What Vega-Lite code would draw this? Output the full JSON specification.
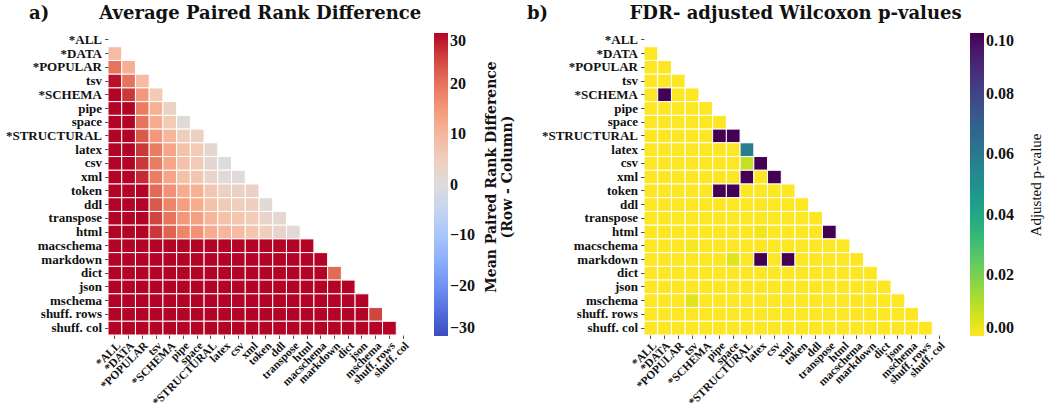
{
"$schema": "https://vega.github.io/schema/vega-lite/v6.json",
"padding": 5,
"background": "white",
"config": {
 "view": {"stroke": null},
 "font": "Liberation Serif",
 "axis": {"labelFont": "Liberation Serif", "labelFontWeight": "bold", "labelFontSize": 13, "labelColor": "#111", "domain": false, "grid": false, "tickColor": "#555", "tickSize": 3.5, "labelPadding": 3},
 "legend": {"labelFont": "Liberation Serif", "labelFontWeight": "bold", "labelFontSize": 16, "labelOffset": 8, "labelColor": "#111", "titleFont": "DejaVu Serif", "titleFontSize": 14, "titleColor": "#111", "titleLimit": 400},
 "title": {"font": "DejaVu Serif", "fontSize": 18, "fontWeight": "bold", "color": "#111"}
},
"data": {"values": [
{"r":"*DATA","c":"*ALL","d":9,"p":0},
{"r":"*POPULAR","c":"*ALL","d":20,"p":0},{"r":"*POPULAR","c":"*DATA","d":11,"p":0},
{"r":"tsv","c":"*ALL","d":29,"p":0},{"r":"tsv","c":"*DATA","d":20,"p":0},{"r":"tsv","c":"*POPULAR","d":9,"p":0},
{"r":"*SCHEMA","c":"*ALL","d":35,"p":0},{"r":"*SCHEMA","c":"*DATA","d":26,"p":0.42},{"r":"*SCHEMA","c":"*POPULAR","d":15,"p":0},{"r":"*SCHEMA","c":"tsv","d":6,"p":0},
{"r":"pipe","c":"*ALL","d":36,"p":0},{"r":"pipe","c":"*DATA","d":32,"p":0},{"r":"pipe","c":"*POPULAR","d":19,"p":0},{"r":"pipe","c":"tsv","d":11,"p":0},{"r":"pipe","c":"*SCHEMA","d":4,"p":0},
{"r":"space","c":"*ALL","d":37,"p":0},{"r":"space","c":"*DATA","d":32,"p":0},{"r":"space","c":"*POPULAR","d":20,"p":0},{"r":"space","c":"tsv","d":12,"p":0},{"r":"space","c":"*SCHEMA","d":6,"p":0},{"r":"space","c":"pipe","d":1,"p":0},
{"r":"*STRUCTURAL","c":"*ALL","d":38,"p":0},{"r":"*STRUCTURAL","c":"*DATA","d":33,"p":0},{"r":"*STRUCTURAL","c":"*POPULAR","d":23,"p":0},{"r":"*STRUCTURAL","c":"tsv","d":15,"p":0},{"r":"*STRUCTURAL","c":"*SCHEMA","d":10,"p":0},{"r":"*STRUCTURAL","c":"pipe","d":5,"p":0.31},{"r":"*STRUCTURAL","c":"space","d":4,"p":0.58},
{"r":"latex","c":"*ALL","d":39,"p":0},{"r":"latex","c":"*DATA","d":34,"p":0},{"r":"latex","c":"*POPULAR","d":26,"p":0},{"r":"latex","c":"tsv","d":19,"p":0},{"r":"latex","c":"*SCHEMA","d":13,"p":0},{"r":"latex","c":"pipe","d":8,"p":0},{"r":"latex","c":"space","d":6,"p":0},{"r":"latex","c":"*STRUCTURAL","d":2,"p":0.058},
{"r":"csv","c":"*ALL","d":39,"p":0},{"r":"csv","c":"*DATA","d":34,"p":0},{"r":"csv","c":"*POPULAR","d":26,"p":0},{"r":"csv","c":"tsv","d":19,"p":0},{"r":"csv","c":"*SCHEMA","d":13,"p":0},{"r":"csv","c":"pipe","d":8,"p":0},{"r":"csv","c":"space","d":6,"p":0},{"r":"csv","c":"*STRUCTURAL","d":2,"p":0.009},{"r":"csv","c":"latex","d":0,"p":0.72},
{"r":"xml","c":"*ALL","d":39,"p":0},{"r":"xml","c":"*DATA","d":34,"p":0},{"r":"xml","c":"*POPULAR","d":27,"p":0},{"r":"xml","c":"tsv","d":19,"p":0},{"r":"xml","c":"*SCHEMA","d":13,"p":0},{"r":"xml","c":"pipe","d":8,"p":0},{"r":"xml","c":"space","d":7,"p":0},{"r":"xml","c":"*STRUCTURAL","d":3,"p":0.27},{"r":"xml","c":"latex","d":1,"p":0},{"r":"xml","c":"csv","d":0.5,"p":0.55},
{"r":"token","c":"*ALL","d":40,"p":0},{"r":"token","c":"*DATA","d":35,"p":0},{"r":"token","c":"*POPULAR","d":31,"p":0},{"r":"token","c":"tsv","d":21,"p":0},{"r":"token","c":"*SCHEMA","d":16,"p":0},{"r":"token","c":"pipe","d":12,"p":0.19},{"r":"token","c":"space","d":11,"p":0.24},{"r":"token","c":"*STRUCTURAL","d":7,"p":0},{"r":"token","c":"latex","d":4,"p":0},{"r":"token","c":"csv","d":4,"p":0},{"r":"token","c":"xml","d":4,"p":0},
{"r":"ddl","c":"*ALL","d":40,"p":0},{"r":"ddl","c":"*DATA","d":35,"p":0},{"r":"ddl","c":"*POPULAR","d":32,"p":0},{"r":"ddl","c":"tsv","d":23,"p":0},{"r":"ddl","c":"*SCHEMA","d":18,"p":0},{"r":"ddl","c":"pipe","d":14,"p":0},{"r":"ddl","c":"space","d":12,"p":0},{"r":"ddl","c":"*STRUCTURAL","d":8,"p":0},{"r":"ddl","c":"latex","d":6,"p":0},{"r":"ddl","c":"csv","d":5,"p":0},{"r":"ddl","c":"xml","d":5,"p":0},{"r":"ddl","c":"token","d":1,"p":0},
{"r":"transpose","c":"*ALL","d":41,"p":0},{"r":"transpose","c":"*DATA","d":36,"p":0},{"r":"transpose","c":"*POPULAR","d":33,"p":0},{"r":"transpose","c":"tsv","d":25,"p":0},{"r":"transpose","c":"*SCHEMA","d":20,"p":0},{"r":"transpose","c":"pipe","d":15,"p":0},{"r":"transpose","c":"space","d":14,"p":0},{"r":"transpose","c":"*STRUCTURAL","d":10,"p":0},{"r":"transpose","c":"latex","d":8,"p":0},{"r":"transpose","c":"csv","d":7,"p":0},{"r":"transpose","c":"xml","d":6,"p":0},{"r":"transpose","c":"token","d":3,"p":0},{"r":"transpose","c":"ddl","d":2,"p":0},
{"r":"html","c":"*ALL","d":41,"p":0},{"r":"html","c":"*DATA","d":36,"p":0},{"r":"html","c":"*POPULAR","d":33,"p":0},{"r":"html","c":"tsv","d":26,"p":0},{"r":"html","c":"*SCHEMA","d":22,"p":0},{"r":"html","c":"pipe","d":18,"p":0},{"r":"html","c":"space","d":16,"p":0},{"r":"html","c":"*STRUCTURAL","d":12,"p":0},{"r":"html","c":"latex","d":10,"p":0.002},{"r":"html","c":"csv","d":9,"p":0},{"r":"html","c":"xml","d":7,"p":0},{"r":"html","c":"token","d":5,"p":0},{"r":"html","c":"ddl","d":3,"p":0},{"r":"html","c":"transpose","d":1,"p":0.38},
{"r":"macschema","c":"*ALL","d":62,"p":0},{"r":"macschema","c":"*DATA","d":60,"p":0},{"r":"macschema","c":"*POPULAR","d":57,"p":0},{"r":"macschema","c":"tsv","d":50,"p":0.001},{"r":"macschema","c":"*SCHEMA","d":47,"p":0},{"r":"macschema","c":"pipe","d":44,"p":0},{"r":"macschema","c":"space","d":43,"p":0},{"r":"macschema","c":"*STRUCTURAL","d":40,"p":0},{"r":"macschema","c":"latex","d":39,"p":0},{"r":"macschema","c":"csv","d":38,"p":0},{"r":"macschema","c":"xml","d":37,"p":0},{"r":"macschema","c":"token","d":35,"p":0},{"r":"macschema","c":"ddl","d":34,"p":0},{"r":"macschema","c":"transpose","d":33,"p":0},{"r":"macschema","c":"html","d":32,"p":0},
{"r":"markdown","c":"*ALL","d":66,"p":0},{"r":"markdown","c":"*DATA","d":64,"p":0},{"r":"markdown","c":"*POPULAR","d":61,"p":0},{"r":"markdown","c":"tsv","d":54,"p":0},{"r":"markdown","c":"*SCHEMA","d":51,"p":0},{"r":"markdown","c":"pipe","d":48,"p":0},{"r":"markdown","c":"space","d":47,"p":0.004},{"r":"markdown","c":"*STRUCTURAL","d":44,"p":0},{"r":"markdown","c":"latex","d":43,"p":0.21},{"r":"markdown","c":"csv","d":42,"p":0},{"r":"markdown","c":"xml","d":41,"p":0.33},{"r":"markdown","c":"token","d":39,"p":0},{"r":"markdown","c":"ddl","d":38,"p":0},{"r":"markdown","c":"transpose","d":37,"p":0},{"r":"markdown","c":"html","d":36,"p":0},{"r":"markdown","c":"macschema","d":31,"p":0},
{"r":"dict","c":"*ALL","d":70,"p":0},{"r":"dict","c":"*DATA","d":68,"p":0},{"r":"dict","c":"*POPULAR","d":65,"p":0},{"r":"dict","c":"tsv","d":58,"p":0},{"r":"dict","c":"*SCHEMA","d":55,"p":0},{"r":"dict","c":"pipe","d":52,"p":0},{"r":"dict","c":"space","d":51,"p":0},{"r":"dict","c":"*STRUCTURAL","d":48,"p":0},{"r":"dict","c":"latex","d":47,"p":0},{"r":"dict","c":"csv","d":46,"p":0},{"r":"dict","c":"xml","d":45,"p":0},{"r":"dict","c":"token","d":43,"p":0},{"r":"dict","c":"ddl","d":42,"p":0},{"r":"dict","c":"transpose","d":41,"p":0},{"r":"dict","c":"html","d":40,"p":0},{"r":"dict","c":"macschema","d":34,"p":0},{"r":"dict","c":"markdown","d":21,"p":0},
{"r":"json","c":"*ALL","d":74,"p":0},{"r":"json","c":"*DATA","d":72,"p":0},{"r":"json","c":"*POPULAR","d":69,"p":0},{"r":"json","c":"tsv","d":62,"p":0},{"r":"json","c":"*SCHEMA","d":59,"p":0},{"r":"json","c":"pipe","d":56,"p":0},{"r":"json","c":"space","d":55,"p":0},{"r":"json","c":"*STRUCTURAL","d":52,"p":0},{"r":"json","c":"latex","d":51,"p":0},{"r":"json","c":"csv","d":50,"p":0},{"r":"json","c":"xml","d":49,"p":0},{"r":"json","c":"token","d":47,"p":0},{"r":"json","c":"ddl","d":46,"p":0},{"r":"json","c":"transpose","d":45,"p":0},{"r":"json","c":"html","d":44,"p":0},{"r":"json","c":"macschema","d":38,"p":0},{"r":"json","c":"markdown","d":33,"p":0},{"r":"json","c":"dict","d":32,"p":0},
{"r":"mschema","c":"*ALL","d":78,"p":0},{"r":"mschema","c":"*DATA","d":76,"p":0},{"r":"mschema","c":"*POPULAR","d":73,"p":0},{"r":"mschema","c":"tsv","d":66,"p":0.004},{"r":"mschema","c":"*SCHEMA","d":63,"p":0},{"r":"mschema","c":"pipe","d":60,"p":0},{"r":"mschema","c":"space","d":59,"p":0},{"r":"mschema","c":"*STRUCTURAL","d":56,"p":0},{"r":"mschema","c":"latex","d":55,"p":0},{"r":"mschema","c":"csv","d":54,"p":0},{"r":"mschema","c":"xml","d":53,"p":0},{"r":"mschema","c":"token","d":51,"p":0},{"r":"mschema","c":"ddl","d":50,"p":0},{"r":"mschema","c":"transpose","d":49,"p":0},{"r":"mschema","c":"html","d":48,"p":0},{"r":"mschema","c":"macschema","d":42,"p":0},{"r":"mschema","c":"markdown","d":37,"p":0},{"r":"mschema","c":"dict","d":36,"p":0},{"r":"mschema","c":"json","d":33,"p":0},
{"r":"shuff. rows","c":"*ALL","d":82,"p":0},{"r":"shuff. rows","c":"*DATA","d":80,"p":0},{"r":"shuff. rows","c":"*POPULAR","d":77,"p":0},{"r":"shuff. rows","c":"tsv","d":70,"p":0},{"r":"shuff. rows","c":"*SCHEMA","d":67,"p":0},{"r":"shuff. rows","c":"pipe","d":64,"p":0},{"r":"shuff. rows","c":"space","d":63,"p":0},{"r":"shuff. rows","c":"*STRUCTURAL","d":60,"p":0},{"r":"shuff. rows","c":"latex","d":59,"p":0},{"r":"shuff. rows","c":"csv","d":58,"p":0},{"r":"shuff. rows","c":"xml","d":57,"p":0},{"r":"shuff. rows","c":"token","d":55,"p":0},{"r":"shuff. rows","c":"ddl","d":54,"p":0},{"r":"shuff. rows","c":"transpose","d":53,"p":0},{"r":"shuff. rows","c":"html","d":52,"p":0},{"r":"shuff. rows","c":"macschema","d":46,"p":0},{"r":"shuff. rows","c":"markdown","d":41,"p":0},{"r":"shuff. rows","c":"dict","d":40,"p":0},{"r":"shuff. rows","c":"json","d":37,"p":0},{"r":"shuff. rows","c":"mschema","d":25,"p":0},
{"r":"shuff. col","c":"*ALL","d":86,"p":0},{"r":"shuff. col","c":"*DATA","d":84,"p":0},{"r":"shuff. col","c":"*POPULAR","d":81,"p":0},{"r":"shuff. col","c":"tsv","d":74,"p":0},{"r":"shuff. col","c":"*SCHEMA","d":71,"p":0},{"r":"shuff. col","c":"pipe","d":68,"p":0},{"r":"shuff. col","c":"space","d":67,"p":0},{"r":"shuff. col","c":"*STRUCTURAL","d":64,"p":0},{"r":"shuff. col","c":"latex","d":63,"p":0},{"r":"shuff. col","c":"csv","d":62,"p":0},{"r":"shuff. col","c":"xml","d":61,"p":0},{"r":"shuff. col","c":"token","d":59,"p":0},{"r":"shuff. col","c":"ddl","d":58,"p":0},{"r":"shuff. col","c":"transpose","d":57,"p":0},{"r":"shuff. col","c":"html","d":56,"p":0},{"r":"shuff. col","c":"macschema","d":50,"p":0},{"r":"shuff. col","c":"markdown","d":45,"p":0},{"r":"shuff. col","c":"dict","d":44,"p":0},{"r":"shuff. col","c":"json","d":41,"p":0},{"r":"shuff. col","c":"mschema","d":35,"p":0},{"r":"shuff. col","c":"shuff. rows","d":31,"p":0}
]},
"spacing": 11,
"resolve": {"scale": {"color": "independent"}},
"hconcat": [
{
 "width": 302, "height": 302,
 "title": {"text": "a)\u00a0\u00a0\u00a0\u00a0\u00a0\u00a0\u00a0\u00a0Average Paired Rank Difference", "anchor": "start", "frame": "group", "dx": -79, "baseline": "alphabetic", "offset": -4},
 "mark": {"type": "rect", "stroke": "white", "strokeWidth": 1},
 "encoding": {
  "x": {"field": "c", "type": "nominal", "title": null, "scale": {"domain": ["*ALL","*DATA","*POPULAR","tsv","*SCHEMA","pipe","space","*STRUCTURAL","latex","csv","xml","token","ddl","transpose","html","macschema","markdown","dict","json","mschema","shuff. rows","shuff. col"], "paddingInner": 0, "paddingOuter": 0}, "axis": {"labelAngle": -45, "labelFontSize": 11.5, "labelPadding": 1}},
  "y": {"field": "r", "type": "nominal", "title": null, "scale": {"domain": ["*ALL","*DATA","*POPULAR","tsv","*SCHEMA","pipe","space","*STRUCTURAL","latex","csv","xml","token","ddl","transpose","html","macschema","markdown","dict","json","mschema","shuff. rows","shuff. col"], "paddingInner": 0, "paddingOuter": 0}},
  "color": {"field": "d", "type": "quantitative",
   "scale": {"domain": [-30,-24,-18,-12,-6,0,6,12,18,24,30], "range": ["#3b4cc0","#5977e3","#7b9ff9","#9ebeff","#c0d4f5","#dddcdc","#f2cbb7","#f7ac8e","#ee8468","#d65244","#b40426"], "clamp": true, "interpolate": "rgb"},
   "legend": {"title": ["Mean Paired Rank Difference", "(Row - Column)"], "titleOrient": "right", "titleFontWeight": "bold", "titlePadding": 6, "offset": 24, "gradientLength": 303, "gradientThickness": 14, "gradientStrokeWidth": 0, "values": [-30,-20,-10,0,10,20,30], "format": "d", "direction": "vertical",
     "encode": {"title": {"update": {"angle": {"value": 270}, "dy": {"value": 18}}}}}}
 }
},
{
 "width": 302, "height": 302,
 "title": {"text": "b)\u00a0\u00a0\u00a0\u00a0\u00a0\u00a0\u00a0\u00a0\u00a0\u00a0\u00a0\u00a0\u00a0FDR- adjusted Wilcoxon p-values", "anchor": "start", "frame": "group", "dx": -117, "baseline": "alphabetic", "offset": -4},
 "mark": {"type": "rect", "stroke": "white", "strokeWidth": 1},
 "encoding": {
  "x": {"field": "c", "type": "nominal", "title": null, "scale": {"domain": ["*ALL","*DATA","*POPULAR","tsv","*SCHEMA","pipe","space","*STRUCTURAL","latex","csv","xml","token","ddl","transpose","html","macschema","markdown","dict","json","mschema","shuff. rows","shuff. col"], "paddingInner": 0, "paddingOuter": 0}, "axis": {"labelAngle": -45, "labelFontSize": 11.5, "labelPadding": 1}},
  "y": {"field": "r", "type": "nominal", "title": null, "scale": {"domain": ["*ALL","*DATA","*POPULAR","tsv","*SCHEMA","pipe","space","*STRUCTURAL","latex","csv","xml","token","ddl","transpose","html","macschema","markdown","dict","json","mschema","shuff. rows","shuff. col"], "paddingInner": 0, "paddingOuter": 0}},
  "color": {"field": "p", "type": "quantitative",
   "scale": {"scheme": "viridis", "reverse": true, "domain": [0, 0.1], "clamp": true},
   "legend": {"title": "Adjusted p-value", "titleOrient": "right", "titleFont": "Liberation Serif", "titleFontSize": 15, "titleFontWeight": "normal", "titlePadding": 6, "offset": 24, "gradientLength": 303, "gradientThickness": 14, "gradientStrokeWidth": 0, "values": [0, 0.02, 0.04, 0.06, 0.08, 0.1], "format": ".2f", "direction": "vertical",
     "encode": {"title": {"update": {"angle": {"value": 270}, "dy": {"value": 24}}}}}}
 }
}
]
}
